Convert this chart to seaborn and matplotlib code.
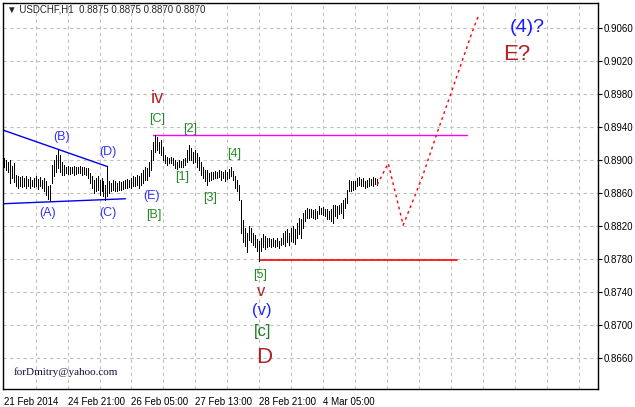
import numpy as np
import pandas as pd
import matplotlib
matplotlib.use("Agg")
import matplotlib.pyplot as plt
import seaborn as sns

# USDCHF H1 bars, high / low in pips (price * 1e4)
bar_high = [
    8902, 8900, 8898, 8900, 8893, 8896, 8882, 8880, 8879, 8881,
    8878, 8880, 8877, 8879, 8876, 8878, 8880, 8877, 8879, 8876,
    8878, 8874, 8868, 8870, 8894, 8900, 8906, 8912, 8906, 8898,
    8894, 8892, 8893, 8891, 8892, 8893, 8891, 8892, 8893, 8891,
    8892, 8890, 8890, 8884, 8880, 8876, 8878, 8880, 8876, 8878,
    8874, 8870, 8893, 8875, 8872, 8876, 8874, 8872, 8874, 8873,
    8875, 8876, 8877, 8876, 8878, 8880, 8879, 8882, 8880, 8884,
    8888, 8892, 8890, 8898, 8912, 8922, 8930, 8928, 8922, 8924,
    8916, 8906, 8904, 8902, 8904, 8903, 8900, 8898, 8900, 8899,
    8901, 8903, 8912, 8918, 8914, 8910, 8912, 8908, 8904, 8898,
    8892, 8888, 8888, 8884, 8886, 8885, 8887, 8886, 8888, 8887,
    8886, 8888, 8886, 8889, 8892, 8887, 8880, 8876, 8870, 8852,
    8827, 8818, 8812, 8820, 8818, 8812, 8809, 8804, 8802, 8806,
    8810, 8808, 8806, 8805, 8804, 8806, 8803, 8805, 8802, 8806,
    8812, 8814, 8816, 8812, 8818, 8820, 8816, 8824, 8830, 8828,
    8836, 8839, 8842, 8840, 8841, 8839, 8840, 8838, 8844, 8842,
    8843, 8841, 8840, 8838, 8840, 8845, 8846, 8844, 8846, 8848,
    8852, 8854, 8864, 8876, 8874, 8875, 8874, 8878, 8879, 8877,
    8878, 8875, 8876, 8878, 8877, 8879, 8878, 8877,
]
bar_low = [
    8892, 8888, 8885, 8872, 8878, 8873, 8868, 8866, 8869, 8867,
    8868, 8866, 8868, 8866, 8869, 8867, 8868, 8865, 8868, 8866,
    8863, 8858, 8853, 8851, 8872, 8880, 8886, 8890, 8886, 8882,
    8882, 8884, 8883, 8883, 8884, 8882, 8883, 8884, 8884, 8882,
    8883, 8882, 8878, 8872, 8866, 8860, 8862, 8864, 8858, 8862,
    8856, 8852, 8856, 8860, 8862, 8864, 8863, 8862, 8864, 8864,
    8865, 8866, 8866, 8867, 8866, 8868, 8868, 8870, 8866, 8870,
    8872, 8876, 8876, 8880, 8888, 8900, 8910, 8912, 8908, 8906,
    8900, 8896, 8894, 8896, 8896, 8894, 8890, 8889, 8891, 8891,
    8892, 8894, 8898, 8900, 8900, 8896, 8898, 8892, 8888, 8882,
    8878, 8874, 8870, 8874, 8876, 8877, 8878, 8878, 8879, 8876,
    8878, 8875, 8877, 8878, 8880, 8876, 8866, 8862, 8852, 8812,
    8800, 8796, 8789, 8803, 8800, 8797, 8794, 8790, 8778, 8790,
    8794, 8792, 8795, 8796, 8795, 8796, 8794, 8796, 8793, 8797,
    8798, 8796, 8800, 8797, 8802, 8800, 8798, 8806, 8810, 8806,
    8818, 8826, 8830, 8830, 8831, 8830, 8829, 8830, 8834, 8834,
    8833, 8832, 8828, 8828, 8826, 8824, 8832, 8830, 8834, 8836,
    8830, 8842, 8848, 8862, 8862, 8864, 8865, 8868, 8870, 8869,
    8868, 8866, 8867, 8869, 8870, 8869, 8871, 8870,
]
last_quote = ["0.8875", "0.8875", "0.8870", "0.8870"]

price_ticks = [0.8660, 0.8700, 0.8740, 0.8780, 0.8820, 0.8860,
               0.8900, 0.8940, 0.8980, 0.9020, 0.9060]
time_ticks = [0, 32, 64, 96, 128, 160]
time_labels = ["21 Feb 2014", "24 Feb 21:00", "26 Feb 05:00",
               "27 Feb 13:00", "28 Feb 21:00", "4 Mar 05:00"]

# projected path (bar index, price)
fc_bar = [187, 192.5, 200, 209.5, 217, 224.5, 234.5, 238]
fc_price = [0.8870, 0.8896, 0.8821, 0.8879, 0.8933, 0.8985, 0.9055, 0.9077]

# levels / triangle lines
top_level = 0.8930
top_span = [75, 232]
low_level = 0.8779
low_span = [128.5, 227]
tri_up_bar, tri_up_price = [0, 52], [0.8936, 0.8892]
tri_lo_bar, tri_lo_price = [0, 61], [0.8847, 0.8853]

RED = "#b22222"
GRN = "#228b22"
BLU = "#3333ff"
wave_labels = [
    ("iv", 77, 0.8974, RED, 13),
    ("[C]", 77, 0.8950, GRN, 9),
    ("[2]", 93.5, 0.8938, GRN, 9),
    ("(B)", 29, 0.8928, BLU, 9),
    ("(D)", 52, 0.8910, BLU, 9),
    ("(A)", 22, 0.8836, BLU, 9),
    ("(C)", 52, 0.8836, BLU, 9),
    ("(E)", 74, 0.8856, BLU, 9),
    ("[B]", 75, 0.8833, GRN, 9),
    ("[1]", 89.5, 0.8879, GRN, 9),
    ("[3]", 103.5, 0.8854, GRN, 9),
    ("[4]", 115.5, 0.8907, GRN, 9),
    ("[5]", 128.5, 0.8761, GRN, 9),
    ("v", 129, 0.8741, RED, 12),
    ("(v)", 129, 0.8718, "#2222ff", 12),
    ("[c]", 129.5, 0.8692, "#1e7a1e", 12),
    ("D", 130.5, 0.8660, RED, 16),
    ("(4)?", 262, 0.9061, "#1a1aff", 14),
    ("E?", 257, 0.9028, RED, 16),
]

sns.set_style("white")
plt.rcParams['font.family'] = ['Liberation Sans', 'DejaVu Sans']

W, H = 635, 407
fig = plt.figure(figsize=(W / 100, H / 100), dpi=100)
ax = fig.add_axes([3 / W, 1 - 389 / H, 595 / W, 386 / H])
ax.set_xlim(-0.3, 297.5)
ax.set_ylim(0.86224, 0.90903)

# dashed grid
grid_x = np.arange(16, 297, 16)
ax.vlines(grid_x, 0.86224, 0.90903, colors="#c0c0c0", linestyles=(0, (3, 3)), lw=0.8, zorder=0)
ax.hlines(price_ticks, -0.3, 297.5, colors="#c0c0c0", linestyles=(0, (3, 3)), lw=0.8, zorder=0)

# bars (1 px wide, crisp like the terminal)
bars = pd.DataFrame({"i": np.arange(len(bar_high)),
                     "high": np.array(bar_high) / 1e4,
                     "low": np.array(bar_low) / 1e4})
ax.vlines(bars["i"], bars["low"], bars["high"], colors="black", lw=0.6,
          antialiased=False, zorder=3)

# lines
ax.plot(top_span, [top_level, top_level], color="#ff00ff", lw=1.0, zorder=2)
ax.plot(low_span, [low_level, low_level], color="#ff0000", lw=1.2, zorder=2)
ax.plot(tri_up_bar, tri_up_price, color="#0000ee", lw=1.0, zorder=2)
ax.plot(tri_lo_bar, tri_lo_price, color="#0000ee", lw=1.0, zorder=2)

fc = pd.DataFrame({"bar": fc_bar, "price": fc_price})
sns.lineplot(data=fc, x="bar", y="price", ax=ax, color="red", lw=1.0,
             linestyle=(0, (2, 2.5)), sort=False, zorder=4)

for txt, bx, py, col, fs in wave_labels:
    ax.text(bx, py, txt, color=col, fontsize=fs, ha="center", va="center", zorder=5)

ax.text(5, 0.8643, "forDmitry@yahoo.com", family=["Liberation Serif", "DejaVu Serif"],
        fontsize=8, color="#101040", ha="left", va="center")

# axes styling
for s in ax.spines.values():
    s.set_color("black")
    s.set_linewidth(1.0)
ax.yaxis.tick_right()
ax.set_yticks(price_ticks)
ax.set_yticklabels([f"{p:.4f}" for p in price_ticks])
ax.tick_params(axis="y", direction="out", length=3, pad=1, labelsize=7, colors="black")
ax.set_xticks(time_ticks)
ax.set_xticklabels(time_labels)
ax.tick_params(axis="x", direction="out", length=5, pad=1, labelsize=7, colors="black")
for lab in ax.get_xticklabels():
    lab.set_ha("left")
ax.set_xlabel("")
ax.set_ylabel("")

fig.text(7 / W, 1 - 10 / H, "\u25bc USDCHF,H1  " + " ".join(last_quote),
         fontsize=7, ha="left", va="center", family=["Liberation Sans", "DejaVu Sans"])

fig.savefig("out.png", dpi=100)
